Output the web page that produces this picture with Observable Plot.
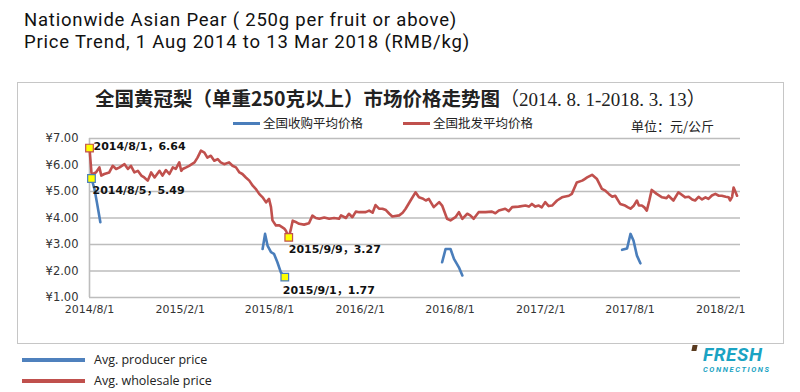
<!DOCTYPE html>
<html><head><meta charset="utf-8">
<script src="https://cdn.jsdelivr.net/npm/d3@7"></script>
<script src="https://cdn.jsdelivr.net/npm/@observablehq/plot@0.6"></script>
<style>
body{margin:0;width:800px;height:392px;position:relative;overflow:hidden;background:#fff;font-family:"Open Sans","Noto Sans",sans-serif;}
.title{position:absolute;left:24px;font-family:Roboto,sans-serif;font-size:18.5px;line-height:22px;height:22px;color:#111;white-space:nowrap;letter-spacing:0.8px;}
#frame{position:absolute;left:17px;top:82px;width:765px;height:260px;border:1px solid #c6c6c6;}
#plot{position:absolute;left:0;top:82px;}
#ctitle{position:absolute;left:95px;top:86px;white-space:nowrap;font-size:19.5px;line-height:24px;color:#222;}
#ctitle .a{font-family:"Noto Sans CJK SC",sans-serif;font-weight:700;}
#ctitle .b{font-family:"Liberation Serif","Noto Sans CJK SC",serif;font-weight:400;font-size:19px;}
.ileg{position:absolute;top:115px;font-family:"Noto Sans CJK SC",sans-serif;font-size:12.5px;line-height:16px;color:#222;white-space:nowrap;}
.ileg i{display:inline-block;width:27px;height:3px;vertical-align:middle;margin-right:3px;margin-top:-2px;}
#unit{position:absolute;left:631px;top:117px;font-family:"Noto Sans CJK SC",sans-serif;font-size:13px;line-height:17px;color:#222;white-space:nowrap;}
.bleg{position:absolute;left:22px;font-size:12.5px;line-height:16px;color:#222;white-space:nowrap;}
.bleg i{display:inline-block;width:63px;height:4px;vertical-align:middle;margin-right:9px;margin-top:-2px;}
.logo{position:absolute;left:703px;color:#1ba3c3;font-family:Roboto,sans-serif;font-style:italic;font-weight:700;white-space:nowrap;}
#lf{top:345px;font-size:19px;line-height:19px;letter-spacing:0.6px;}
#lc{top:365px;font-size:7.5px;line-height:9px;letter-spacing:1.6px;}
#mark{position:absolute;left:692px;top:345px;width:5px;height:6px;background:#5a3b1f;transform:skewX(-12deg);}
</style></head>
<body>
<div class="title" style="top:9px">Nationwide Asian Pear ( 250g per fruit or above)</div>
<div class="title" style="top:31px">Price Trend, 1 Aug 2014 to 13 Mar 2018 (RMB/kg)</div>
<div id="frame"></div>
<div id="plot"></div>
<div id="ctitle"><span class="a">全国黄冠梨（单重250克以上）市场价格走势图</span><span class="b">（2014. 8. 1-2018. 3. 13）</span></div>
<div class="ileg" style="left:233px"><i style="background:#4a7ebb"></i>全国收购平均价格</div>
<div class="ileg" style="left:403px"><i style="background:#c0504d"></i>全国批发平均价格</div>
<div id="unit">单位：元/公斤</div>
<div class="bleg" style="top:352px"><i style="background:#4f81bd"></i>Avg. producer price</div>
<div class="bleg" style="top:373px"><i style="background:#c0504d"></i>Avg. wholesale price</div>
<div id="mark"></div>
<div class="logo" id="lf">FRESH</div>
<div class="logo" id="lc">CONNECTIONS</div>
<script>
// ---- data ----
const wholesaleDates = ["2014-08-01","2014-08-05","2014-08-08","2014-08-14","2014-08-21","2014-08-25","2014-08-31","2014-09-10","2014-09-17","2014-09-24","2014-10-01","2014-10-11","2014-10-18","2014-10-24","2014-10-31","2014-11-07","2014-11-14","2014-11-20","2014-11-27","2014-12-04","2014-12-11","2014-12-21","2014-12-27","2015-01-03","2015-01-10","2015-01-17","2015-01-23","2015-01-30","2015-02-03","2015-02-06","2015-02-13","2015-02-19","2015-03-02","2015-03-08","2015-03-15","2015-03-22","2015-03-28","2015-04-04","2015-04-11","2015-04-18","2015-04-24","2015-05-01","2015-05-11","2015-05-18","2015-05-25","2015-06-01","2015-06-07","2015-06-14","2015-06-21","2015-06-28","2015-07-04","2015-07-11","2015-07-18","2015-07-25","2015-07-31","2015-08-04","2015-08-07","2015-08-14","2015-08-21","2015-08-31","2015-09-03","2015-09-09","2015-09-13","2015-09-17","2015-09-23","2015-09-30","2015-10-10","2015-10-20","2015-10-27","2015-11-03","2015-11-10","2015-11-20","2015-11-30","2015-12-10","2015-12-20","2015-12-24","2016-01-03","2016-01-09","2016-01-16","2016-01-23","2016-01-30","2016-02-12","2016-02-19","2016-02-26","2016-03-03","2016-03-10","2016-03-17","2016-03-24","2016-03-31","2016-04-06","2016-04-20","2016-04-27","2016-05-03","2016-05-13","2016-05-23","2016-05-30","2016-06-06","2016-06-13","2016-06-19","2016-06-29","2016-07-10","2016-07-16","2016-07-26","2016-08-02","2016-08-12","2016-08-19","2016-08-26","2016-09-05","2016-09-11","2016-09-18","2016-09-28","2016-10-12","2016-10-25","2016-11-01","2016-11-08","2016-11-21","2016-11-28","2016-12-05","2016-12-18","2017-01-01","2017-01-08","2017-01-14","2017-01-21","2017-01-28","2017-02-03","2017-02-10","2017-02-17","2017-02-24","2017-03-06","2017-03-16","2017-03-30","2017-04-05","2017-04-15","2017-04-26","2017-05-01","2017-05-06","2017-05-16","2017-05-26","2017-06-05","2017-06-12","2017-06-19","2017-06-26","2017-07-02","2017-07-12","2017-07-22","2017-07-28","2017-08-02","2017-08-08","2017-08-15","2017-08-19","2017-08-25","2017-08-30","2017-09-04","2017-09-09","2017-09-14","2017-09-24","2017-10-05","2017-10-14","2017-10-18","2017-10-28","2017-11-07","2017-11-21","2017-11-28","2017-12-05","2017-12-11","2017-12-18","2017-12-25","2018-01-01","2018-01-07","2018-01-14","2018-01-21","2018-01-28","2018-02-03","2018-02-11","2018-02-17","2018-02-20","2018-02-24","2018-02-27","2018-03-06"];
const wholesalePrices = [6.64,5.70,5.66,5.72,5.91,5.60,5.66,5.72,5.97,5.85,5.91,6.03,5.85,5.97,5.72,5.78,5.60,5.53,5.41,5.72,5.53,5.78,5.60,5.81,5.66,5.91,5.85,6.10,5.78,5.85,5.91,5.97,6.10,6.28,6.54,6.47,6.28,6.35,6.16,6.22,6.10,6.03,6.10,5.97,5.91,5.72,5.66,5.53,5.41,5.22,5.10,4.91,4.78,4.59,4.72,4.41,3.91,3.72,3.72,3.60,3.53,3.27,3.55,3.90,3.85,3.78,3.75,3.80,4.09,4.00,3.97,4.02,3.97,4.00,3.97,4.10,4.00,4.16,4.03,4.24,4.22,4.22,4.28,4.20,4.49,4.35,4.35,4.30,4.16,4.06,4.10,4.20,4.35,4.66,4.97,4.78,4.74,4.66,4.72,4.41,4.60,4.47,3.97,3.91,4.03,4.22,3.97,4.16,4.10,3.97,4.22,4.22,4.24,4.18,4.28,4.35,4.26,4.41,4.43,4.47,4.43,4.53,4.43,4.47,4.40,4.60,4.45,4.47,4.66,4.78,4.84,4.91,5.34,5.41,5.47,5.53,5.63,5.47,5.10,5.03,4.91,4.80,4.84,4.53,4.47,4.40,4.35,4.45,4.66,4.47,4.47,4.40,4.28,4.65,5.06,4.91,4.78,4.75,4.84,4.66,4.97,4.78,4.80,4.70,4.66,4.80,4.70,4.78,4.72,4.85,4.91,4.84,4.84,4.80,4.78,4.66,4.80,5.15,4.84];

const producerDates = ["2014-08-05","2014-08-11","2014-08-16","2014-08-23","2015-07-18","2015-07-23","2015-07-28","2015-08-04","2015-08-10","2015-08-17","2015-08-24","2015-09-01","2016-07-16","2016-07-23","2016-08-02","2016-08-09","2016-08-19","2016-08-26","2017-07-16","2017-07-26","2017-08-02","2017-08-08","2017-08-15","2017-08-22"];
const producerPrices = [5.49,5.10,4.59,3.84,2.83,3.40,2.96,2.71,2.65,2.33,1.95,1.77,2.33,2.83,2.83,2.46,2.14,1.83,2.80,2.85,3.40,3.15,2.58,2.29];
const producerRun = [1,1,1,1,2,2,2,2,2,2,2,2,3,3,3,3,3,3,4,4,4,4,4,4];

const noteDates = ["2014-08-01","2014-08-05","2015-09-09","2015-09-01"];
const notePrices = [6.64,5.49,3.27,1.77];
const noteLabels = ["2014/8/1，6.64","2014/8/5，5.49","2015/9/9，3.27","2015/9/1，1.77"];
const noteSeries = ["wholesale","producer","wholesale","producer"];

const xTickDates = ["2014-08-01","2015-02-01","2015-08-01","2016-02-01","2016-08-01","2017-02-01","2017-08-01","2018-02-01"];
const xTickLabels = ["2014/8/1","2015/2/1","2015/8/1","2016/2/1","2016/8/1","2017/2/1","2017/8/1","2018/2/1"];
const yTicks = [1,2,3,4,5,6,7];
const yTickLabels = ["¥1.00","¥2.00","¥3.00","¥4.00","¥5.00","¥6.00","¥7.00"];
const xStart = "2014-08-01", xEnd = "2018-03-13";

// ---- build ----
const P = s => new Date(s + "T00:00:00Z");
const wholesale = wholesaleDates.map((d,i)=>({date:P(d), price:wholesalePrices[i]}));
const producer = producerDates.map((d,i)=>({date:P(d), price:producerPrices[i], run:producerRun[i]}));
const notes = noteDates.map((d,i)=>({date:P(d), price:notePrices[i], label:noteLabels[i], series:noteSeries[i]}));
const xTicks = xTickDates.map(P);
const xLab = new Map(xTickDates.map((d,i)=>[+P(d), xTickLabels[i]]));
const yLab = new Map(yTicks.map((v,i)=>[v, yTickLabels[i]]));
const seriesColor = {wholesale:"#c0504d", producer:"#4a7ebb"};
const noteOffsets = [[4,-2],[1,12],[0,12.5],[-2,13.5]];

const chart = Plot.plot({
  width: 800, height: 261,
  marginLeft: 89, marginRight: 60, marginTop: 56, marginBottom: 46,
  x: {type:"utc", domain:[P(xStart), P(xEnd)]},
  y: {domain:[1,7]},
  style: {background:"transparent", overflow:"visible"},
  marks: [
    Plot.ruleY(yTicks, {stroke:"#bdbdbd", strokeWidth:1.6}),
    Plot.ruleX([P(xStart)], {y1:1, y2:7, stroke:"#bdbdbd", strokeWidth:1.6}),
    Plot.axisY({ticks:yTicks, tickSize:0, tickPadding:11, tickFormat:d=>yLab.get(d), fontSize:11.5, fontFamily:"DejaVu Sans", fill:"#333", label:null}),
    Plot.axisX({ticks:xTicks, tickSize:0, tickPadding:8, tickFormat:d=>xLab.get(+d), fontSize:11, fontFamily:"DejaVu Sans", fill:"#333", label:null}),
    Plot.line(wholesale, {x:"date", y:"price", stroke:"#c0504d", strokeWidth:2.6, strokeLinejoin:"round"}),
    Plot.line(producer, {x:"date", y:"price", z:"run", stroke:"#4a7ebb", strokeWidth:2.6, strokeLinejoin:"round"}),
    Plot.dot(notes, {x:"date", y:"price", symbol:"square", r:4.3, fill:"#ffff00", stroke:d=>seriesColor[d.series], strokeWidth:1.2}),
    ...notes.map((n,i)=>Plot.text([n], {x:"date", y:"price", text:"label", textAnchor:"start", dx:noteOffsets[i][0], dy:noteOffsets[i][1], fontSize:11, fontWeight:"bold", fontFamily:"DejaVu Sans, Noto Sans CJK SC", fill:"#111"}))
  ]
});
document.getElementById("plot").appendChild(chart);
</script>
</body></html>
